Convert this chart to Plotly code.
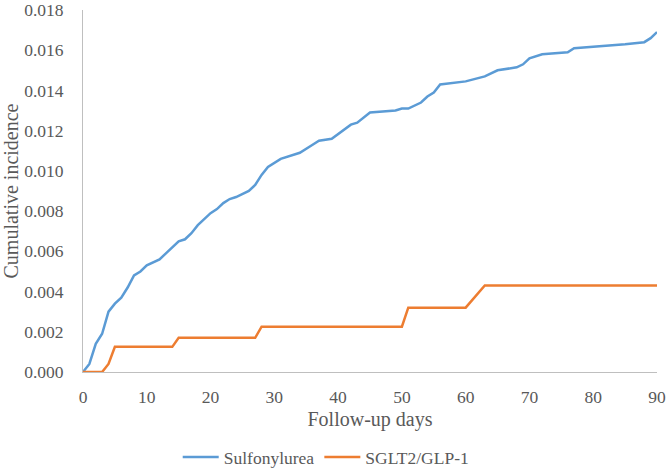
import plotly.graph_objs as go

# Sulfonylurea cumulative incidence
su_days = [0, 1, 2, 3, 4, 5, 6, 7, 8, 9, 10, 12, 13, 14, 15, 16, 17, 18, 19, 20,
           21, 22, 23, 24, 26, 27, 28, 29, 31, 34, 36, 37, 39, 42, 43, 45, 49, 50,
           51, 53, 54, 55, 56, 60, 63, 65, 68, 69, 70, 72, 76, 77, 85, 88, 89, 90]
su_vals = [0.0, 0.0004, 0.0014, 0.0019, 0.0030, 0.0034, 0.0037, 0.0042, 0.0048, 0.0050,
           0.0053, 0.0056, 0.0059, 0.0062, 0.0065, 0.0066, 0.0069, 0.0073, 0.0076, 0.0079,
           0.0081, 0.0084, 0.0086, 0.0087, 0.0090, 0.0093, 0.0098, 0.0102, 0.0106, 0.0109,
           0.0113, 0.0115, 0.0116, 0.0123, 0.0124, 0.0129, 0.0130, 0.0131, 0.0131, 0.0134,
           0.0137, 0.0139, 0.0143, 0.01445, 0.0147, 0.0150, 0.01515, 0.0153, 0.0156, 0.0158,
           0.0159, 0.0161, 0.0163, 0.0164, 0.0166, 0.0169]

# SGLT2/GLP-1
sg_days = [0, 3, 4, 5, 14, 15, 27, 28, 50, 51, 60, 63, 90]
sg_vals = [0.0, 0.0, 0.0004, 0.00125, 0.00125, 0.0017, 0.0017, 0.00225, 0.00225,
           0.0032, 0.0032, 0.0043, 0.0043]

fam = "Times New Roman"
grey = "#595959"

fig = go.Figure()
fig.add_trace(go.Scatter(x=su_days, y=su_vals, mode='lines', name='Sulfonylurea',
                         line=dict(color='#5B9BD5', width=2.5)))
fig.add_trace(go.Scatter(x=sg_days, y=sg_vals, mode='lines', name='SGLT2/GLP-1',
                         line=dict(color='#ED7D31', width=2.5)))

fig.update_layout(
    width=666, height=474,
    margin=dict(l=83, r=9, t=10, b=102, autoexpand=False),
    plot_bgcolor='white', paper_bgcolor='white',
    font_family=fam, font_size=16.5, font_color=grey,
    showlegend=True,
    legend=dict(orientation='h', x=0.165, xanchor='left', y=-0.235, yanchor='middle',
                itemwidth=36, tracegroupgap=0),
    legend_font_family=fam, legend_font_size=17.5, legend_font_color=grey,
)
fig.update_xaxes(range=[0, 90], dtick=10, showgrid=False, zeroline=False,
                 showline=True, linecolor='#bfbfbf', linewidth=1, ticks='',
                 ticklabelstandoff=9, automargin=False, ticklabeloverflow='allow',
                 tickfont_family=fam, tickfont_size=17.5, tickfont_color=grey,
                 title_text='Follow-up days', title_standoff=5)
fig.update_yaxes(range=[0, 0.018], dtick=0.002, tickformat='.3f', showgrid=False,
                 zeroline=False, showline=True, linecolor='#bfbfbf', linewidth=1,
                 ticks='', ticklabelstandoff=15, automargin=False, ticklabeloverflow='allow',
                 tickfont_family=fam, tickfont_size=17.5, tickfont_color=grey,
                 title_text='Cumulative incidence', title_standoff=3)

# drop the default page margin so the figure sits at the window's corner
fig.write_html("out.html", config={'displayModeBar': False},
               post_script="document.body.style.margin='0';")
